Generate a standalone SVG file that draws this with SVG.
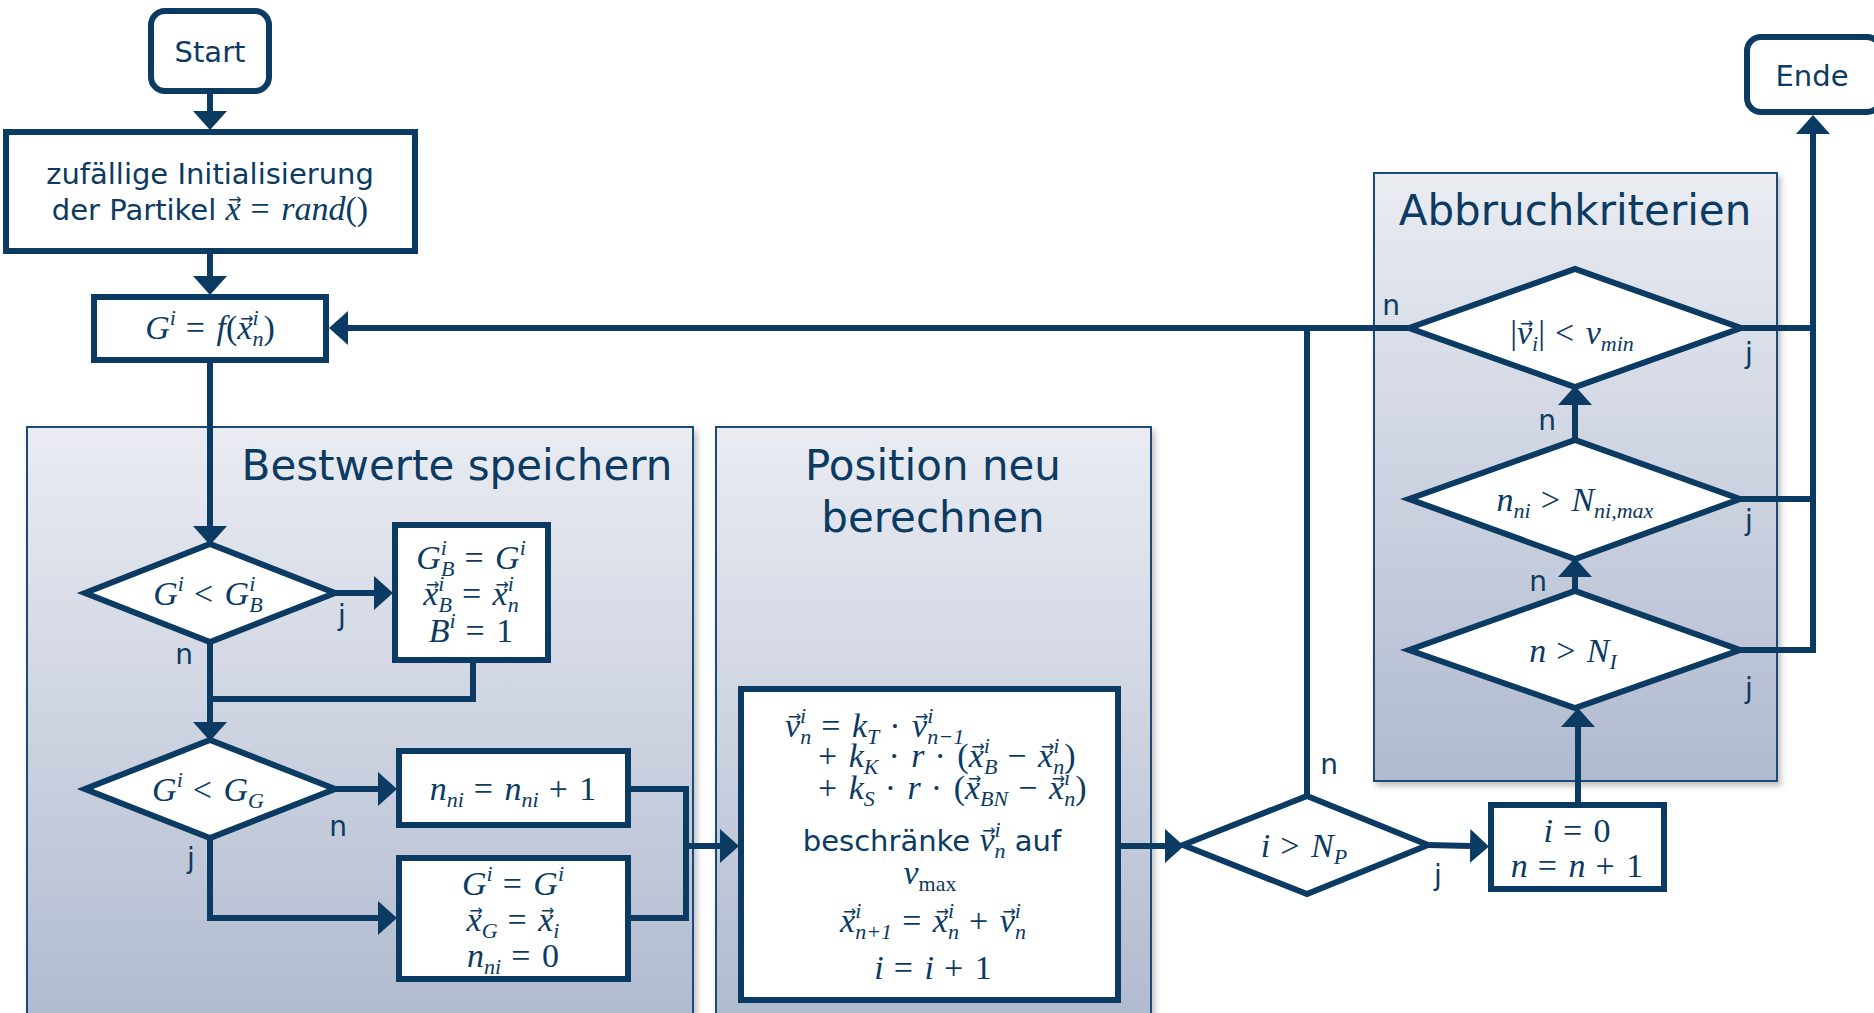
<svg xmlns="http://www.w3.org/2000/svg" width="1874" height="1013" viewBox="0 0 1874 1013" xml:space="preserve">
<defs>
<style>
.nd{fill:#fff;stroke:#0b3a62;stroke-width:6;stroke-linejoin:miter}
.pn{fill:url(#pg);stroke:#1d4a76;stroke-width:2;filter:url(#sh)}
.cn{fill:none;stroke:#0b3a62;stroke-width:6;stroke-linejoin:miter}
.ar{marker-end:url(#ah)}
.t{font-family:"DejaVu Sans",Verdana,sans-serif;fill:#0b3a62;text-anchor:middle}
.b{font-size:29px}
.h{font-size:42px}
.l{font-size:28px}
.m{font-family:"Liberation Serif","Times New Roman",serif;font-style:italic;font-size:34px;fill:#0b3a62;text-anchor:middle}
.u{font-style:normal}
.o{font-style:normal;letter-spacing:1.5px}
.s{font-size:22px}
.st{text-anchor:start}
.va{font-family:"DejaVu Sans",sans-serif;font-style:normal;font-size:16px;letter-spacing:0}
</style>
<linearGradient id="pg" x1="0" y1="0" x2="0" y2="1">
<stop offset="0" stop-color="#eaecf2"/>
<stop offset="1" stop-color="#b0bacf"/>
</linearGradient>
<filter id="sh" x="-5%" y="-5%" width="115%" height="115%">
<feDropShadow dx="3" dy="4" stdDeviation="3" flood-color="#000" flood-opacity="0.25"/>
</filter>
<marker id="ah" markerUnits="userSpaceOnUse" markerWidth="20" markerHeight="34" viewBox="0 0 20 34" refX="0" refY="17" orient="auto">
<path d="M0,0 L19,17 L0,34 z" fill="#0b3a62"/>
</marker>
</defs>

<g id="panels">
<g id="panel-bestwerte"><rect class="pn" x="27" y="427" width="666" height="600"/><text class="t h" x="457" y="480">Bestwerte speichern</text></g>
<g id="panel-position"><rect class="pn" x="716" y="427" width="435" height="600"/><text class="t h" x="933" y="480">Position neu</text><text class="t h" x="933" y="532">berechnen</text></g>
<g id="panel-abbruch"><rect class="pn" x="1374" y="173" width="403" height="608"/><text class="t h" x="1575" y="225">Abbruchkriterien</text></g>
</g>

<g id="connectors">
<path class="cn ar" d="M210,94 V111"/>
<path class="cn ar" d="M210,254 V276"/>
<path class="cn ar" d="M210,363 V526"/>
<path class="cn ar" d="M335,593 H374"/>
<path class="cn" d="M473,663 V699 H210"/>
<path class="cn ar" d="M210,642 V722"/>
<path class="cn ar" d="M335,789 H378"/>
<path class="cn ar" d="M210,838 V918 H378"/>
<path class="cn" d="M631,789 H686 V918 H631"/>
<path class="cn ar" d="M686,846 H720"/>
<path class="cn ar" d="M1121,846 H1165"/>
<path class="cn ar" d="M1428,845 L1470,846"/>
<path class="cn" d="M1307,796 V328"/>
<path class="cn ar" d="M1578,802 V727"/>
<path class="cn ar" d="M1575,591 V577"/>
<path class="cn ar" d="M1575,440 V405"/>
<path class="cn ar" d="M1409,328 H348"/>
<path class="cn" d="M1741,328 H1813"/>
<path class="cn" d="M1740,499 H1813"/>
<path class="cn ar" d="M1740,650 H1813 V134"/>
<text class="t l" x="342" y="625">j</text>
<text class="t l" x="184" y="664">n</text>
<text class="t l" x="338" y="836">n</text>
<text class="t l" x="191" y="868">j</text>
<text class="t l" x="1391" y="315">n</text>
<text class="t l" x="1749" y="363">j</text>
<text class="t l" x="1547" y="430">n</text>
<text class="t l" x="1749" y="530">j</text>
<text class="t l" x="1538" y="591">n</text>
<text class="t l" x="1749" y="698">j</text>
<text class="t l" x="1329" y="774">n</text>
<text class="t l" x="1438" y="885">j</text>
</g>

<g id="start"><rect class="nd" x="151" y="11" width="118" height="80" rx="14"/><text class="t b" x="210" y="62">Start</text></g>

<g id="init"><rect class="nd" x="6" y="132" width="409" height="119"/><text class="t b" x="210" y="184">zufällige Initialisierung</text><text class="t b" x="210" y="220">der Partikel <tspan class="m">x</tspan><tspan class="va" dx="-12.2" dy="-15">→</tspan><tspan class="m o" dx="-1.2" dy="15"> = </tspan><tspan class="m">rand</tspan><tspan class="m u">()</tspan></text></g>

<g id="eval"><rect class="nd" x="94" y="297" width="232" height="63"/><text class="m" x="210" y="339">G<tspan class="s" dy="-14">i</tspan><tspan class="o" dy="14"> = </tspan>f<tspan class="u">(</tspan>x<tspan class="va" dx="-12.2" dy="-15">→</tspan><tspan class="s" dx="-1.2" dy="1">i</tspan><tspan class="s" dx="-6" dy="21">n</tspan><tspan class="u" dy="-7">)</tspan></text></g>

<g id="dec-gb"><polygon class="nd" points="85,593 210,544 335,593 210,642"/><text class="m" x="208" y="605">G<tspan class="s" dy="-14">i</tspan><tspan class="o" dy="14"> &lt; </tspan>G<tspan class="s" dy="-14">i</tspan><tspan class="s" dx="-6" dy="21">B</tspan></text></g>

<g id="set-gb"><rect class="nd" x="395" y="525" width="153" height="135"/>
<text class="m" x="471" y="569">G<tspan class="s" dy="-14">i</tspan><tspan class="s" dx="-6" dy="21">B</tspan><tspan class="o" dy="-7"> = </tspan>G<tspan class="s" dy="-14">i</tspan></text>
<text class="m" x="471" y="605">x<tspan class="va" dx="-12.2" dy="-15">→</tspan><tspan class="s" dx="-1.2" dy="1">i</tspan><tspan class="s" dx="-6" dy="21">B</tspan><tspan class="o" dy="-7"> = </tspan>x<tspan class="va" dx="-12.2" dy="-15">→</tspan><tspan class="s" dx="-1.2" dy="1">i</tspan><tspan class="s" dx="-6" dy="21">n</tspan></text>
<text class="m" x="471" y="642">B<tspan class="s" dy="-14">i</tspan><tspan class="o" dy="14"> = </tspan><tspan class="u">1</tspan></text></g>

<g id="dec-gg"><polygon class="nd" points="85,789 210,740 335,789 210,838"/><text class="m" x="208" y="801">G<tspan class="s" dy="-14">i</tspan><tspan class="o" dy="14"> &lt; </tspan>G<tspan class="s" dy="7">G</tspan></text></g>

<g id="inc-nni"><rect class="nd" x="399" y="751" width="229" height="74"/><text class="m" x="513" y="800">n<tspan class="s" dy="7">ni</tspan><tspan class="o" dy="-7"> = </tspan>n<tspan class="s" dy="7">ni</tspan><tspan class="o" dy="-7"> + </tspan><tspan class="u">1</tspan></text></g>

<g id="set-gg"><rect class="nd" x="399" y="858" width="229" height="121"/>
<text class="m" x="513" y="895">G<tspan class="s" dy="-14">i</tspan><tspan class="o" dy="14"> = </tspan>G<tspan class="s" dy="-14">i</tspan></text>
<text class="m" x="513" y="931">x<tspan class="va" dx="-12.2" dy="-15">→</tspan><tspan class="s" dx="-1.2" dy="22">G</tspan><tspan class="o" dy="-7"> = </tspan>x<tspan class="va" dx="-12.2" dy="-15">→</tspan><tspan class="s" dx="-1.2" dy="22">i</tspan></text>
<text class="m" x="513" y="967">n<tspan class="s" dy="7">ni</tspan><tspan class="o" dy="-7"> = </tspan><tspan class="u">0</tspan></text></g>

<g id="update"><rect class="nd" x="741" y="689" width="377" height="311"/>
<text class="m st" x="785" y="737">v<tspan class="va" dx="-12.2" dy="-15">→</tspan><tspan class="s" dx="-1.2" dy="1">i</tspan><tspan class="s" dx="-6" dy="21">n</tspan><tspan class="o" dy="-7"> = </tspan>k<tspan class="s" dy="7">T</tspan><tspan class="o" dy="-7"> · </tspan>v<tspan class="va" dx="-12.2" dy="-15">→</tspan><tspan class="s" dx="-1.2" dy="1">i</tspan><tspan class="s" dx="-6" dy="21">n−1</tspan></text>
<text class="m st" x="818" y="767"><tspan class="o">+ </tspan>k<tspan class="s" dy="7">K</tspan><tspan class="o" dy="-7"> · </tspan>r<tspan class="o"> · </tspan><tspan class="u">(</tspan>x<tspan class="va" dx="-12.2" dy="-15">→</tspan><tspan class="s" dx="-1.2" dy="1">i</tspan><tspan class="s" dx="-6" dy="21">B</tspan><tspan class="o" dy="-7"> − </tspan>x<tspan class="va" dx="-12.2" dy="-15">→</tspan><tspan class="s" dx="-1.2" dy="1">i</tspan><tspan class="s" dx="-6" dy="21">n</tspan><tspan class="u" dy="-7">)</tspan></text>
<text class="m st" x="818" y="799"><tspan class="o">+ </tspan>k<tspan class="s" dy="7">S</tspan><tspan class="o" dy="-7"> · </tspan>r<tspan class="o"> · </tspan><tspan class="u">(</tspan>x<tspan class="va" dx="-12.2" dy="-15">→</tspan><tspan class="s" dx="-1.2" dy="22">BN</tspan><tspan class="o" dy="-7"> − </tspan>x<tspan class="va" dx="-12.2" dy="-15">→</tspan><tspan class="s" dx="-1.2" dy="1">i</tspan><tspan class="s" dx="-6" dy="21">n</tspan><tspan class="u" dy="-7">)</tspan></text>
<text class="t b" x="932" y="851">beschränke <tspan class="m">v</tspan><tspan class="va" dx="-12.2" dy="-15">→</tspan><tspan class="m s" dx="-1.2" dy="1">i</tspan><tspan class="m s" dx="-6" dy="21">n</tspan><tspan dy="-7"> auf</tspan></text>
<text class="m" x="930" y="884">v<tspan class="s u" dy="7">max</tspan></text>
<text class="m" x="933" y="932">x<tspan class="va" dx="-12.2" dy="-15">→</tspan><tspan class="s" dx="-1.2" dy="1">i</tspan><tspan class="s" dx="-6" dy="21">n+1</tspan><tspan class="o" dy="-7"> = </tspan>x<tspan class="va" dx="-12.2" dy="-15">→</tspan><tspan class="s" dx="-1.2" dy="1">i</tspan><tspan class="s" dx="-6" dy="21">n</tspan><tspan class="o" dy="-7"> + </tspan>v<tspan class="va" dx="-12.2" dy="-15">→</tspan><tspan class="s" dx="-1.2" dy="1">i</tspan><tspan class="s" dx="-6" dy="21">n</tspan></text>
<text class="m" x="933" y="979">i<tspan class="o"> = </tspan>i<tspan class="o"> + </tspan><tspan class="u">1</tspan></text></g>

<g id="dec-np"><polygon class="nd" points="1183,845 1307,796 1428,845 1307,894"/><text class="m" x="1304" y="857">i<tspan class="o"> &gt; </tspan>N<tspan class="s" dy="7">P</tspan></text></g>

<g id="reset"><rect class="nd" x="1491" y="805" width="173" height="84"/>
<text class="m" x="1577" y="842">i<tspan class="o"> = </tspan><tspan class="u">0</tspan></text>
<text class="m" x="1577" y="877">n<tspan class="o"> = </tspan>n<tspan class="o"> + </tspan><tspan class="u">1</tspan></text></g>

<g id="dec-vmin"><polygon class="nd" points="1409,328 1575,269 1741,328 1575,387"/><text class="m" x="1572" y="344"><tspan class="u">|</tspan>v<tspan class="va" dx="-12.2" dy="-15">→</tspan><tspan class="s" dx="-1.2" dy="22">i</tspan><tspan class="u" dy="-7">|</tspan><tspan class="o"> &lt; </tspan>v<tspan class="s" dy="7">min</tspan></text></g>

<g id="dec-nni"><polygon class="nd" points="1409,499 1575,440 1740,499 1575,559"/><text class="m" x="1575" y="511">n<tspan class="s" dy="7">ni</tspan><tspan class="o" dy="-7"> &gt; </tspan>N<tspan class="s" dy="7">ni,max</tspan></text></g>

<g id="dec-ni"><polygon class="nd" points="1409,650 1575,591 1740,650 1575,708"/><text class="m" x="1573" y="662">n<tspan class="o"> &gt; </tspan>N<tspan class="s" dy="7">I</tspan></text></g>

<g id="ende"><rect class="nd" x="1747" y="37" width="134" height="75" rx="14"/><text class="t b" x="1812" y="86">Ende</text></g>
</svg>
